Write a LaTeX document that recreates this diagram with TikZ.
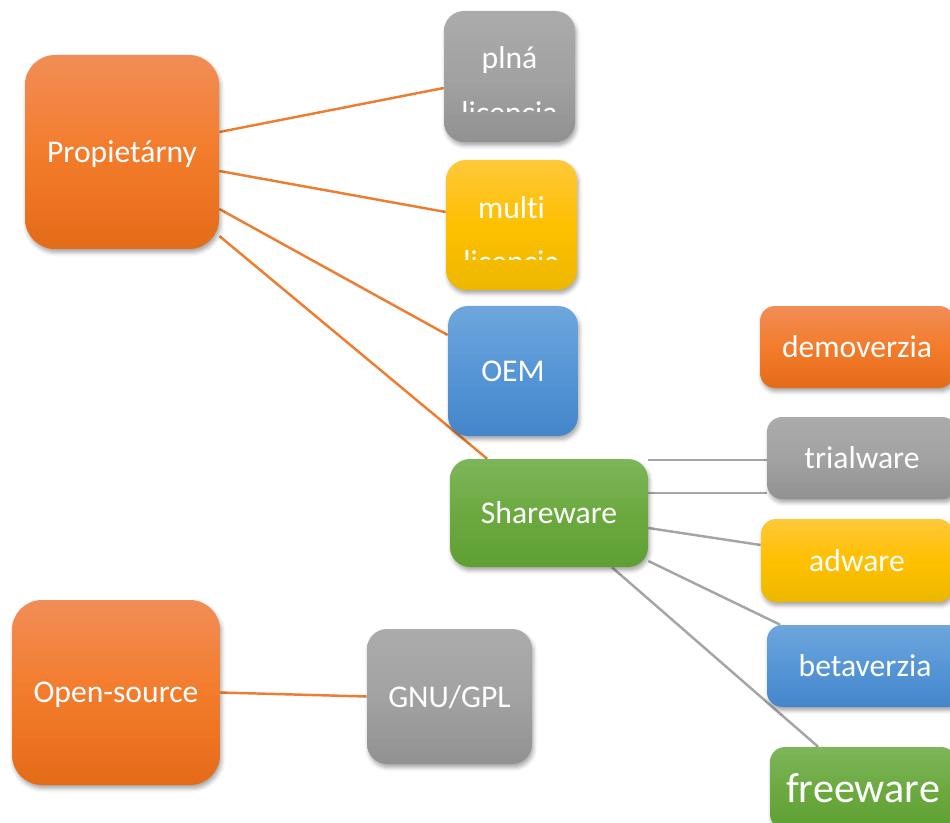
\documentclass[tikz,border=0pt]{standalone}
\usepackage{fontspec}
\setmainfont{Carlito}[Ligatures=NoCommon]
\usetikzlibrary{shadows.blur}

\definecolor{orangetop}{RGB}{241,141,86}
\definecolor{orangemid}{RGB}{243,124,44}
\definecolor{orangebot}{RGB}{228,107,24}
\definecolor{graytop}{RGB}{171,171,171}
\definecolor{graymid}{RGB}{162,162,162}
\definecolor{graybot}{RGB}{145,145,145}
\definecolor{yellowtop}{RGB}{255,200,58}
\definecolor{yellowmid}{RGB}{255,192,0}
\definecolor{yellowbot}{RGB}{236,184,0}
\definecolor{bluetop}{RGB}{110,166,220}
\definecolor{bluemid}{RGB}{86,150,215}
\definecolor{bluebot}{RGB}{68,134,202}
\definecolor{greentop}{RGB}{125,182,91}
\definecolor{greenmid}{RGB}{108,170,64}
\definecolor{greenbot}{RGB}{94,159,50}
\definecolor{lineorange}{RGB}{237,125,49}
\definecolor{linegray}{RGB}{165,165,165}

\pgfdeclarelayer{bg}
\pgfsetlayers{bg,main}

\begin{document}
\begin{tikzpicture}[
	box/.style={rounded corners=0.3cm, inner sep=0pt, text=white, text depth=0pt, font=\fontsize{18}{22}\selectfont,
		blur shadow={shadow xshift=0.03cm, shadow yshift=-0.07cm, shadow blur radius=0.08cm, shadow opacity=35}},
	orangebox/.style={box, top color=orangetop, bottom color=orangebot, middle color=orangemid},
	graybox/.style={box, top color=graytop, bottom color=graybot, middle color=graymid},
	yellowbox/.style={box, top color=yellowtop, bottom color=yellowbot, middle color=yellowmid},
	bluebox/.style={box, top color=bluetop, bottom color=bluebot, middle color=bluemid},
	greenbox/.style={box, top color=greentop, bottom color=greenbot, middle color=greenmid},
	boxtext/.style={inner sep=0pt, text=white, align=center, font=\fontsize{18}{31}\selectfont},
	orangeline/.style={draw=lineorange, line width=1.4pt},
	grayline/.style={draw=linegray, line width=1.4pt}
]
	\clip (0,0) rectangle (19,-16.46);

	%main groups
	\node[orangebox, rounded corners=0.6cm, minimum width=3.88cm, minimum height=3.88cm] (prop) at (2.44,-3.04) {Propietárny};
	\node[orangebox, rounded corners=0.6cm, minimum width=4.16cm, minimum height=3.7cm] (open) at (2.32,-13.85) {Open-source};

	%proprietary licences
	\node[graybox, rounded corners=0.4cm, minimum width=2.62cm, minimum height=2.62cm] (plna) at (10.19,-1.53) {};
	\node[yellowbox, rounded corners=0.4cm, minimum width=2.62cm, minimum height=2.6cm] (multi) at (10.23,-4.5) {};
	\node[bluebox, rounded corners=0.4cm, minimum width=2.6cm, minimum height=2.6cm] (oem) at (10.26,-7.42) {OEM};
	\node[greenbox, rounded corners=0.4cm, minimum width=3.96cm, minimum height=2.16cm] (share) at (10.98,-10.26) {Shareware};
	%text running out of the two boxes
	\begin{scope}
		\clip ([xshift=-1cm]plna.north west) rectangle ([xshift=1cm,yshift=-2.02cm]plna.north east);
		\node[boxtext, anchor=base] (plnatxt) at ([yshift=-2.25cm]plna.north) {plná\\licencia};
	\end{scope}
	\begin{scope}
		\clip ([xshift=-1cm]multi.north west) rectangle ([xshift=1cm,yshift=-2cm]multi.north east);
		\node[boxtext, anchor=base] (multitxt) at ([yshift=-2.26cm]multi.north) {multi\\licencia};
	\end{scope}

	%shareware kinds
	\node[orangebox, minimum width=3.88cm, minimum height=1.64cm] (demo) at (17.14,-6.94) {demoverzia};
	\node[graybox, minimum width=3.8cm, minimum height=1.64cm] (trial) at (17.24,-9.16) {trialware};
	\node[yellowbox, minimum width=3.84cm, minimum height=1.66cm] (adware) at (17.14,-11.21) {adware};
	\node[bluebox, minimum width=3.92cm, minimum height=1.64cm] (beta) at (17.3,-13.32) {betaverzia};
	\node[greenbox, minimum width=3.72cm, minimum height=1.64cm, font=\fontsize{24}{28}\selectfont] (free) at (17.26,-15.76) {freeware};

	%open source licence
	\node[graybox, rounded corners=0.4cm, minimum width=3.3cm, minimum height=2.7cm] (gnu) at (8.99,-13.93) {GNU/GPL};

	%connectors behind the boxes
	\begin{pgfonlayer}{bg}
		\draw[orangeline] ([yshift=0.4cm]prop.east) -- ([yshift=-0.23cm]plna.west);
		\draw[orangeline] ([yshift=-0.38cm]prop.east) -- ([yshift=0.26cm]multi.west);
		\draw[orangeline] ([yshift=-1.14cm]prop.east) -- ([yshift=0.72cm]oem.west);
		\draw[orangeline] ([yshift=-1.68cm]prop.east) -- ([xshift=-1.24cm]share.north);
		\draw[grayline] ([yshift=1.06cm]share.east) -- ([yshift=-0.04cm]trial.west);
		\draw[grayline] ([yshift=0.4cm]share.east) -- ([yshift=-0.7cm]trial.west);
		\draw[grayline] ([yshift=-0.3cm]share.east) -- ([yshift=0.31cm]adware.west);
		\draw[grayline] ([yshift=-0.96cm]share.east) -- ([xshift=-1.7cm]beta.north);
		\draw[grayline] ([xshift=1.26cm]share.south) -- ([xshift=-0.9cm]free.north);
		\draw[orangeline] (open.east) -- (gnu.west);
	\end{pgfonlayer}
\end{tikzpicture}
\end{document}
